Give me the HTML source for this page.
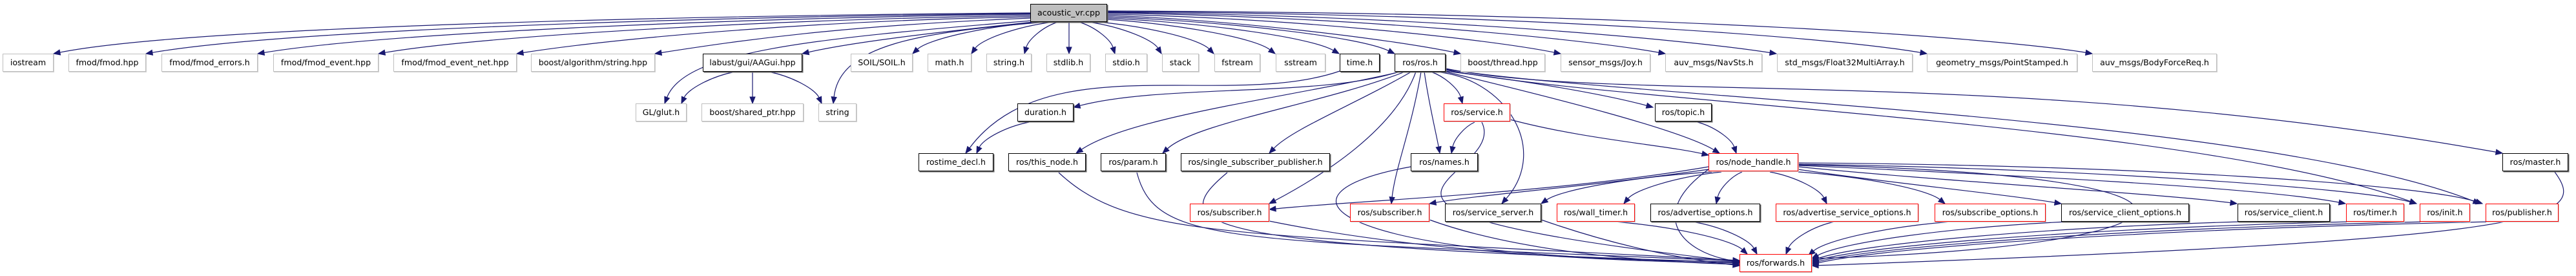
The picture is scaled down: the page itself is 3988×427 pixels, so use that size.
<!DOCTYPE html>
<html><head><meta charset="utf-8"><style>
html,body{margin:0;padding:0;background:#fff;}
#c{position:relative;width:3988px;height:427px;overflow:hidden;background:#fff;}
.n{position:absolute;box-sizing:border-box;height:28px;line-height:26px;text-align:center;font-family:"DejaVu Sans","Liberation Sans",sans-serif;font-size:12.6px;color:#000;background:#fff;white-space:nowrap;border:1px solid #bfbfbf;box-shadow:1px 1px 0 #d0d0d0;}
.b{border:1.5px solid #000;box-shadow:1.5px 1.5px 0 #666;}
.r{border:1.5px solid #ff0000;box-shadow:1px 1px 0 #ccc;}
.g{background:#bfbfbf;border:1.5px solid #000;box-shadow:1.5px 1.5px 0 #666;}
svg{position:absolute;left:0;top:0;}
</style></head><body><div id="c">
<svg id="s" width="3988" height="427"></svg>
<div class="n g" style="left:1595px;top:6px;width:119px">acoustic_vr.cpp</div>
<div class="n" style="left:4px;top:83px;width:79px">iostream</div>
<div class="n" style="left:106px;top:83px;width:120px">fmod/fmod.hpp</div>
<div class="n" style="left:250px;top:83px;width:149px">fmod/fmod_errors.h</div>
<div class="n" style="left:423px;top:83px;width:163px">fmod/fmod_event.hpp</div>
<div class="n" style="left:609px;top:83px;width:191px">fmod/fmod_event_net.hpp</div>
<div class="n" style="left:822px;top:83px;width:192px">boost/algorithm/string.hpp</div>
<div class="n b" style="left:1088px;top:83px;width:154px">labust/gui/AAGui.hpp</div>
<div class="n" style="left:1317px;top:83px;width:96px">SOIL/SOIL.h</div>
<div class="n" style="left:1436px;top:83px;width:68px">math.h</div>
<div class="n" style="left:1527px;top:83px;width:70px">string.h</div>
<div class="n" style="left:1620px;top:83px;width:68px">stdlib.h</div>
<div class="n" style="left:1711px;top:83px;width:65px">stdio.h</div>
<div class="n" style="left:1799px;top:83px;width:57px">stack</div>
<div class="n" style="left:1880px;top:83px;width:71px">fstream</div>
<div class="n" style="left:1975px;top:83px;width:77px">sstream</div>
<div class="n b" style="left:2074px;top:83px;width:62px">time.h</div>
<div class="n b" style="left:2159px;top:83px;width:79px">ros/ros.h</div>
<div class="n" style="left:2261px;top:83px;width:131px">boost/thread.hpp</div>
<div class="n" style="left:2416px;top:83px;width:139px">sensor_msgs/Joy.h</div>
<div class="n" style="left:2578px;top:83px;width:150px">auv_msgs/NavSts.h</div>
<div class="n" style="left:2751px;top:83px;width:210px">std_msgs/Float32MultiArray.h</div>
<div class="n" style="left:2983px;top:83px;width:233px">geometry_msgs/PointStamped.h</div>
<div class="n" style="left:3239px;top:83px;width:193px">auv_msgs/BodyForceReq.h</div>

<div class="n" style="left:984px;top:160px;width:79px">GL/glut.h</div>
<div class="n" style="left:1086px;top:160px;width:158px">boost/shared_ptr.hpp</div>
<div class="n" style="left:1267px;top:160px;width:59px">string</div>
<div class="n b" style="left:1575px;top:160px;width:87px">duration.h</div>
<div class="n r" style="left:2235px;top:160px;width:103px">ros/service.h</div>
<div class="n b" style="left:2562px;top:160px;width:88px">ros/topic.h</div>

<div class="n b" style="left:1422px;top:237px;width:116px">rostime_decl.h</div>
<div class="n b" style="left:1561px;top:237px;width:120px">ros/this_node.h</div>
<div class="n b" style="left:1704px;top:237px;width:101px">ros/param.h</div>
<div class="n b" style="left:1828px;top:237px;width:231px">ros/single_subscriber_publisher.h</div>
<div class="n b" style="left:2184px;top:237px;width:104px">ros/names.h</div>
<div class="n r" style="left:2645px;top:237px;width:139px">ros/node_handle.h</div>
<div class="n b" style="left:3874px;top:237px;width:102px">ros/master.h</div>

<div class="n r" style="left:1842px;top:315px;width:123px">ros/subscriber.h</div>
<div class="n r" style="left:2090px;top:315px;width:123px">ros/subscriber.h</div>
<div class="n b" style="left:2237px;top:315px;width:149px">ros/service_server.h</div>
<div class="n r" style="left:2410px;top:315px;width:121px">ros/wall_timer.h</div>
<div class="n b" style="left:2555px;top:315px;width:170px">ros/advertise_options.h</div>
<div class="n r" style="left:2749px;top:315px;width:221px">ros/advertise_service_options.h</div>
<div class="n r" style="left:2995px;top:315px;width:172px">ros/subscribe_options.h</div>
<div class="n b" style="left:3191px;top:315px;width:198px">ros/service_client_options.h</div>
<div class="n b" style="left:3464px;top:315px;width:143px">ros/service_client.h</div>
<div class="n r" style="left:3632px;top:315px;width:90px">ros/timer.h</div>
<div class="n r" style="left:3746px;top:315px;width:78px">ros/init.h</div>
<div class="n r" style="left:3848px;top:315px;width:113px">ros/publisher.h</div>
<div class="n r" style="left:2693px;top:393px;width:112px">ros/forwards.h</div>
</div>
<script>
var s=document.getElementById('s'),out='';
function E(x1,y1,x2,y2,c){
 var c1x,c1y,c2x,c2y;
 if(c){c1x=c[0];c1y=c[1];c2x=c[2];c2y=c[3];}
 else{var dx=x2-x1,dy=y2-y1;c1x=x1+dx*0.45;c1y=y1+dy*0.15;c2x=x2-dx*0.12;c2y=y2-dy*0.45;}
 var tx=x2-c2x,ty=y2-c2y,L=Math.sqrt(tx*tx+ty*ty)||1;tx/=L;ty/=L;
 var bx=x2-tx*10,by=y2-ty*10;
 out+='<path d="M'+x1+','+y1+' C'+c1x+','+c1y+' '+c2x+','+c2y+' '+bx+','+by+'" fill="none" stroke="#191970" stroke-width="1.2"/>';
 out+='<polygon points="'+x2+','+y2+' '+(bx-ty*4)+','+(by+tx*4)+' '+(bx+ty*4)+','+(by-tx*4)+'" fill="#191970" stroke="#191970"/>';
}
// acoustic -> row1
E(1595,20,83,83,[1100,24,300,40]);
E(1595,21,226,83,[1100,26,450,45]);
E(1595,22,399,83,[1150,28,600,50]);
E(1595,24,586,83,[1200,30,750,55]);
E(1595,26,800,83,[1250,32,950,60]);
E(1595,28,1014,83,[1300,40,1150,62]);
E(1600,34,1242,83,[1450,50,1320,65]);
E(1597,32,1029,160,[1250,60,1060,80]);
E(1620,34,1290,160,[1420,50,1300,70]);
E(1610,34,1413,83);E(1630,34,1504,83);E(1638,34,1586,83);
E(1655,34,1655,83,[1655,50,1655,65]);
E(1670,34,1726,83);E(1685,34,1798,83);E(1700,34,1879,83);
E(1714,30,1974,83);E(1714,28,2073,83);E(1714,26,2159,83);
E(1714,24,2261,83,[1900,30,2150,60]);E(1714,22,2416,83,[2000,28,2300,60]);
E(1714,20,2578,83,[2100,26,2450,60]);E(1714,19,2750,83,[2200,24,2600,60]);
E(1714,18,2983,83,[2400,22,2850,60]);E(1714,17,3239,83,[2600,20,3100,60]);
// AAGui
E(1138,111,1055,160);E(1165,111,1165,160,[1165,125,1165,140]);E(1190,111,1272,160);
// time.h
E(2074,110,1495,237,[1900,170,1620,70,1495,200]);
E(1593,189,1512,237);
// ros.h
E(2165,111,1662,166,[2050,150,1800,130]);
E(2168,111,1666,237,[2000,150,1750,180]);
E(2175,111,1800,237,[2050,160,1850,190]);
E(2185,111,1965,237,[2100,160,2000,200]);
E(2192,111,1965,315,[2160,200,2050,270]);
E(2200,111,2154,315,[2185,200,2160,260]);
E(2205,111,2229,237,[2212,160,2222,200]);
E(2215,111,2264,160);
E(2222,111,2325,315,[2330,120,2400,230]);
E(2238,111,2662,237,[2400,150,2600,200]);
E(2238,110,2559,166,[2400,130,2500,150]);
E(2238,108,3741,315,[2500,160,3400,190]);
E(2238,107,3839,315,[2500,150,3500,180]);
E(2238,106,3874,237,[2500,160,3100,100,3700,130]);
// service.h
E(2283,189,2247,237);E(2338,185,2645,240,[2450,215,2580,225]);
E(2294,189,2693,405,[2340,280,1950,320,2400,395]);
E(2628,189,2688,237);
// row4 -> forwards
E(2184,258,2693,405,[1950,300,2050,400,2550,405]);
E(1639,267,2693,403,[1750,370,1900,360,2600,400]);
E(1760,267,2693,404,[1790,380,1900,370,2600,402]);
E(1900,267,2693,406,[1800,350,1850,380,2600,404]);
// node_handle
E(2645,258,1965,324,[2400,300,2100,310]);
E(2645,262,2213,315,[2450,290,2300,300]);
E(2650,266,2386,315);E(2665,266,2514,315);E(2697,266,2657,315);
E(2740,266,2828,315);E(2784,266,3011,315);E(2784,262,3191,315,[2900,280,3100,300]);
E(2784,258,3463,315,[3000,280,3350,300]);E(2784,256,3631,315,[3100,270,3500,290]);
E(2784,254,3741,315,[3200,260,3650,290]);E(2784,252,3843,315,[3300,255,3750,285]);
E(2784,255,2805,400,[3500,270,3450,380]);
E(2645,262,2693,405,[2550,330,2600,390]);
// row5 -> forwards
E(1965,342,2693,407,[2200,390,2500,405]);
E(2213,340,2693,409,[2350,390,2550,405]);
E(2386,340,2693,411,[2500,380,2600,400]);
E(2500,343,2705,393);
E(2620,343,2720,393);
E(2840,343,2765,393);
E(3020,343,2800,395);
E(3200,343,2805,400);
E(3470,343,2805,403);
E(3640,343,2805,405);
E(3760,343,2805,407);
E(3860,343,2805,409);
E(3955,266,2805,411,[4010,340,3950,370,3200,400]);
s.innerHTML=out;
</script>
</body></html>
